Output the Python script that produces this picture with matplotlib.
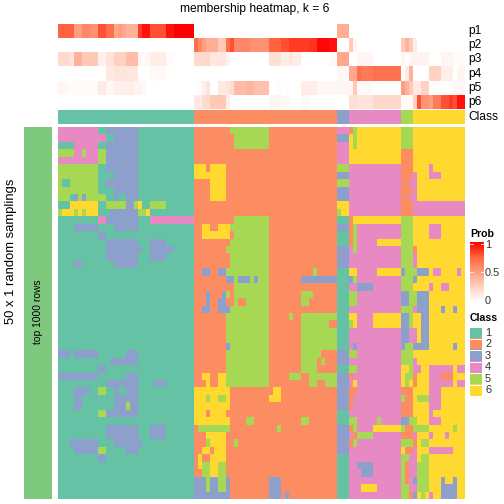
import numpy as np
import matplotlib
matplotlib.use("Agg")
import matplotlib.pyplot as plt
from matplotlib.colors import ListedColormap, LinearSegmentedColormap, BoundaryNorm
from matplotlib.patches import Rectangle

plt.rcParams['font.family'] = ['Liberation Sans', 'DejaVu Sans']

title = "membership heatmap, k = 6"
prob_names = ["p1", "p2", "p3", "p4", "p5", "p6"]
class_labels = ["1", "2", "3", "4", "5", "6"]
class_colors = ["#66C2A5", "#FC8D62", "#8DA0CB", "#E78AC3", "#A6D854", "#FFD92F"]
class_counts = [34, 36, 3, 13, 3, 13]

# membership probabilities, "value*count" runs per column
p1 = ".75*4 .5*2 .6*2 .55*2 .8*2 .7*2 .45 .5 .45 .4*3 .85 .95*2 .8*4 .95*2 1*5 0*36 .42*3 0*29"
p2 = "0*34 .7 .6 .5 .42*3 .3*2 .7 .8 .6*4 .55*5 .75*3 .8*2 .85*5 .87*2 .98*3 .95*2 0*3 .3 .05 0*11 .3 .4 .3 .1 0*12"
p3 = ".2*3 .15 .4*2 .3*4 .08*2 .15*2 .25*3 .35*3 .05 .02 .04 .1*4 .02*2 0*5 .2*2 .22*2 .14*4 .06 0*10 .17*3 .1*2 .13 .1*2 0*7 .03*2 .45*3 0*2 .05*4 0*7 .05 0 .05 .07*4 0*3 .05*3 .02*3"
p4 = "0*12 .12*2 .15*3 .13*3 0*3 .03*4 0*7 0*36 .04*3 .45*2 .7 .65*3 .7 .68*6 0 .12 .4 0*4 .25*3 .08*2 .1 0 .05*2"
p5 = ".05*2 .03*8 .12*2 .04*2 .08*3 .1*2 .06*2 .03 0*12 0 .02 .08 .15 0*2 .12*2 .15 .2 .35*3 .38*2 .33*4 0*2 .03 0*5 .1*4 .04*5 .05 .04 .05 .05 .3 .03*4 0*7 .5 .4 .3 .12*2 .25*2 0*6 .04*3"
p6 = "0*34 .12*2 .2*2 .3*4 .08 0*10 .05*3 .03*2 0*3 .03*2 0*7 0*3 .18*2 .15*4 .22*7 .03*3 .25 .8 .55*2 .5 .65*2 .8*2 .85 .8 .95*2"

# consensus class per row: block runs "class*count" in column order
rows_a = [
 "4*10 1*2 3*8 1*14", "4*12 1*2 3*6 1*14", "1*4 4*6 1*2 3*8 1*14", "5*4 4*2 5 4*3 5*2 3*8 1*14",
 "4*10 5*2 3*8 1*14", "5*10 1*2 3*8 1*14", "5*10 1*4 3*6 1*14", "5 1*2 5*7 1*2 3*8 1*14",
 "5*10 1*4 3*6 1*14", "5*3 1 3 5 3 5*5 1*2 3 1*2 3*3 1*14", "1*3 6*7 1*2 5*5 3*2 5 6 1*2 5*4 1*7",
 "5 6*3 5 6 5 6*3 1*3 3*7 5*2 6 1*11", "1*10 4*2 3*8 1*3 4*11", "1*4 3*6 1*4 3*6 1*14", "1*10 3*2 1*22",
 "1*12 3*8 1*3 3*4 1*7", "1*12 3*9 1*2 3*6 1*5", "1*12 3*8 1*3 3*4 1*7", "1*4 3*2 1*8 3*6 1*14",
 "1*34", "1*34", "1*34", "1*34", "1*34", "1*34", "1*34", "1*34", "1*34", "1*34", "1*34",
 "3*3 1 3*6 1*7 3*3 1*14", "1*13 3*7 1*14", "1*10 3*2 1*22", "3*10 1*7 3*3 1*14",
 "1*12 3*8 1*4 3*3 1*7", "1*4 3*4 1*2 5*2 1*2 3 1*2 3*3 1*14", "1*4 3*2 1*8 3*6 1*14",
 "1*4 3*2 1*8 3*3 5 3*2 1*14", "1*10 5*2 3*8 1*14", "1*34", "1*12 3*8 1*3 3*4 1*7", "1*12 3*8 1*3 3*4 1*7",
 "1*3 3*7 1*4 3*7 1*13", "1*4 3*6 5*2 1*5 3*3 1*14", "1*10 3*2 1*22", "1*34", "1*34", "1*34", "1*34", "1*34",
]
rows_b = [
 "2*9 5*10 2*17", "2*10 5*9 2*17", "2*10 5*9 2*17", "2*36", "2*36", "6*3 2 6*4 2*28", "6*8 2*28",
 "2*4 6*4 2*28", "2*4 6*4 2*28", "2*4 6*4 2*28", "2*36", "2*36", "2*10 5*9 2*17",
 "2*2 6*2 2*2 6*3 5*10 2*17", "2*2 6*7 2 5*9 2*17", "2*9 5*10 2*17", "2*8 5*11 2*17", "2*9 5*10 2*17", "2*9 5*10 2*17",
 "2*2 3*2 2*2 3*2 5*11 2*11 5 2*5", "2*8 3*2 5 3*3 5 3 5*3 2*8 3*9", "2*10 5*9 2*17",
 "2*3 3 2*3 3 5 2 5*9 2*8 5*3 2*6", "2*3 3 2*2 3*2 2*2 5 2*2 5*6 2*8 5*2 2*7", "2*2 3*2 2*2 3*3 5*10 2*17",
 "2*8 5*11 2*5 5 2*2 5*9", "2*8 5*11 2*8 5*7 2*2", "2*8 5*11 2*8 5*9", "2*8 5*11 2*8 5*9", "2*8 3 5*10 2*8 5*9",
 "2*8 5*11 2*8 5*5 2*4", "2*8 5*11 2*8 5*4 2 5 2*3", "2*8 5*11 2*8 5*4 2*5",
 "2*2 6*2 2*2 6*2 5*11 2*5 5*3 2*2 5*7", "2*3 6 2*2 6*2 5*11 2*10 5*2 2*2 5*3", "6*9 2*11 6*2 2*14",
 "6*3 5 6*2 5*2 6 2*10 6*3 2*14", "6*9 2*27", "6*3 2 6*4 2*28", "6*9 2*4 5*2 2*12 5*2 2*7",
 "2 5*8 2*12 5 2*14", "2*3 6*5 2*28", "2*3 5 6*4 2*2 5 2*25", "2*2 6*2 2 6*3 2*28", "2 6 2*2 6*4 2*28",
 "2 6 5*2 6*2 5*2 2*28", "2*2 5*2 6*2 5*2 2*28", "3*3 5 3*2 5*2 3 2*10 3*3 2*14", "3*3 5 3*2 5*2 3 2*10 3*3 2*14",
 "3*9 2*10 3*3 2 3 2*12",
]
rows_c = [
 "4*3 2 5 6*11 5*3 6*13", "3*3 6 5 6*11 5*3 6*13", "4*3 6 5 6*11 5*3 6*13", "4*3 6*13 2*3 6*13", "4*3 6*13 2*3 6*13",
 "5*3 4*13 2*3 6*4 4 6*8", "3*3 4*13 2*3 4 6*3 4*3 6*6", "5*3 4*13 2*2 4*2 6*12", "3*3 4*13 2*3 4 6*12",
 "3*3 4*13 2*2 4*2 6*12", "6*3 4*13 2*3 4*13", "5 6*2 4*13 2*3 4*13", "1*3 2 6*12 5*3 6*13",
 "3*3 2 5 4*11 5*3 6*4 4*3 6*6", "1*3 2 5 4*11 5*3 6*4 4*3 6*6", "1*3 2 5 4*5 6*6 5*3 6*13", "3*3 4 5 4*11 5*3 2 6*12",
 "3*3 4*13 5*3 4 6*12", "3*3 4*13 5*3 4 6*12", "1*3 6*2 4*5 6*6 3 5*3 3*3 6 4*2 6*4 4 6", "1*3 3 5 4*11 5*3 3 6*12",
 "1*3 4*2 3*4 4*7 5*3 6*4 4 6*2 4*2 6*4", "1*3 5*2 4*11 3*2 5*2 3*3 6*9", "1*3 5*2 4*11 3*2 5*2 3*3 6*9",
 "1*3 4*13 5*3 4 3*3 6*3 3 6*2 3 6*2", "1*3 6*2 4*4 6*7 3*2 5 6*2 3*2 6*9", "1*3 5 6 4*4 6*7 3*2 5 6*2 3*2 6*9",
 "1*3 4*13 3*2 4*2 6 3*2 6*9", "1*3 4*13 3*2 4*2 6 3*2 6*9", "1*3 4 3 4*11 3 5*2 3*4 6*6 3 6*2", "3*3 5*2 4*11 5*3 6*13",
 "3*3 4*13 5*3 4 6*12", "1*3 5*2 4*11 6*2 5 4*2 6*2 4*6 6 4*2", "3*3 2 4*12 6 5*2 2 6*3 4*3 2*3 6*3",
 "3*3 4 6 4*11 6 5 6 2 6*3 4*6 6 4*2", "3*3 2*2 4*11 2*3 6*4 4*3 6*6", "3*3 2 4*12 5 2*2 6 5*3 4*3 6*6",
 "3*3 2 4*12 2*3 6*4 4*3 6*6", "1*3 4*13 2*3 6*4 4 6*8", "1*3 5*2 4*5 5 4*5 3*2 5*2 6*3 4*3 6*6",
 "3*3 2 5 4*4 6*7 5 2*2 5*4 6*6 5 6*2", "3*3 4 2 5*4 4*7 2*3 4 6*3 4 6*3 4 6*4", "3*3 2 5 4*11 5*3 2 6 5*2 6*9",
 "3*3 4*13 6 2*2 4 6*3 4*6 6*3", "1*3 4*13 5*2 4*2 6 5*2 6*9", "1*3 4*2 3*4 4*7 5 2 4*2 5*3 6*9", "1*3 4*3 3*3 4*7 5 2 4*2 5*3 6*9",
 "1*3 4*13 5 2 4 3 5*3 6*3 3 6*2 3 6*2", "1*3 4*3 6*4 4*6 5*2 4*2 5*3 6*3 3*4 6*2", "1*3 4*13 5*2 2 3 6 5 6 4 6*2 3*4 6*2",
]
row_names = "top 1000 rows"
side_label = "50 x 1 random samplings"
prob_ticks = [0, 0.5, 1]


def expand(text):
    out = []
    for tok in text.split():
        v, _, n = tok.partition("*")
        out += [float(v)] * int(n or 1)
    return out


prob = np.array([expand(p) for p in (p1, p2, p3, p4, p5, p6)])
main = np.array([expand(a) + expand(b) + expand(c) for a, b, c in zip(rows_a, rows_b, rows_c)])
top_class = np.repeat(np.arange(1, 7), class_counts)[None, :]

W = H = 504
fig = plt.figure(figsize=(7, 7), dpi=72, facecolor="white")


def pax(x0, y0, x1, y1):
    ax = fig.add_axes([x0 / W, 1 - y1 / H, (x1 - x0) / W, (y1 - y0) / H])
    ax.set_axis_off()
    return ax


def ptext(x, y, s, **kw):
    kw.setdefault("va", "center")
    kw.setdefault("color", "black")
    fig.text(x / W, 1 - y / H, s, **kw)


prob_cmap = LinearSegmentedColormap.from_list(
    "prob", [(0, "#FFFFFF"), (.25, "#FFD2C4"), (.5, "#FF9E81"), (.75, "#FF6440"), (1, "#FF0000")])
class_cmap = ListedColormap(class_colors)
class_norm = BoundaryNorm(np.arange(.5, 7.5), 6)

X0, X1 = 58, 465
ax = pax(X0, 24, X1, 109)
ax.imshow(prob, aspect="auto", cmap=prob_cmap, vmin=0, vmax=1, interpolation="nearest")
ax = pax(X0, 110, X1, 124)
ax.imshow(top_class, aspect="auto", cmap=class_cmap, norm=class_norm, interpolation="nearest")
ax = pax(X0, 127, X1, 499)
ax.imshow(main, aspect="auto", cmap=class_cmap, norm=class_norm, interpolation="nearest")

# left annotation bar
ax = pax(24, 127, 52, 499)
ax.add_patch(Rectangle((0, 0), 1, 1, transform=ax.transAxes, color="#7FC97F", lw=0))

ptext(255, 9, title, ha="center", fontsize=12)
for i, name in enumerate(prob_names):
    ptext(468, 24 + 14.17 * (i + .5), name, ha="left", fontsize=12)
ptext(468, 117, "Class", ha="left", fontsize=12)
ptext(11, 251, side_label, rotation=90, ha="center", fontsize=13)
ptext(38, 312, row_names, rotation=90, ha="center", fontsize=10.2)

# Prob legend
ptext(470, 234, "Prob", ha="left", fontsize=10.5, fontweight="bold")
ax = pax(470, 242, 484, 302)
ax.imshow(np.linspace(1, 0, 128)[:, None], aspect="auto", cmap=prob_cmap, vmin=0, vmax=1,
          extent=[0, 1, -.03, 1.03])
ax.set_ylim(-.03, 1.03)
for t in prob_ticks:
    ax.plot([0, .22], [t, t], color="white", lw=.8)
    ax.plot([.78, 1], [t, t], color="white", lw=.8)
    ptext(485, 300.5 - 55.5 * t, f"{t:g}", ha="left", fontsize=11, color="#333333")

# Class legend
ptext(470, 318, "Class", ha="left", fontsize=10.5, fontweight="bold")
ax = pax(470, 327, 482, 396)
ax.imshow(np.arange(1, 7)[:, None], aspect="auto", cmap=class_cmap, norm=class_norm,
          interpolation="nearest", extent=[0, 1, 6, 0])
for i, lab in enumerate(class_labels):
    ax.axhline(i, color="white", lw=1)
    ptext(485, 327 + 11.5 * (i + .5), lab, ha="left", fontsize=11, color="#333333")

fig.savefig("out.png", dpi=72)
